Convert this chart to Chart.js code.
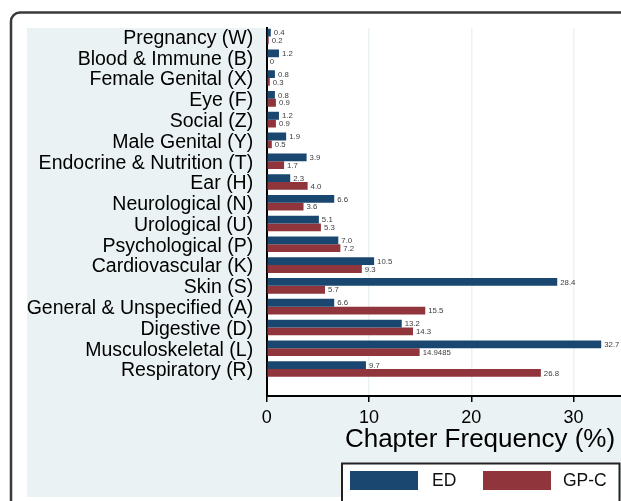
<!DOCTYPE html>
<html>
<head>
<meta charset="utf-8">
<script src="https://cdn.jsdelivr.net/npm/chart.js@4.4.1/dist/chart.umd.min.js"></script>
<style>
  html, body { margin: 0; padding: 0; background: #ffffff; overflow: hidden; width: 621px; height: 501px; }
  #wrap { position: relative; width: 720px; height: 501px; }
</style>
</head>
<body>
<div id="wrap"><canvas id="c" width="720" height="501"></canvas></div>
<script>
// ---- data ----
const categories = [
  'Pregnancy (W)', 'Blood & Immune (B)', 'Female Genital (X)', 'Eye (F)', 'Social (Z)',
  'Male Genital (Y)', 'Endocrine & Nutrition (T)', 'Ear (H)', 'Neurological (N)', 'Urological (U)',
  'Psychological (P)', 'Cardiovascular (K)', 'Skin (S)', 'General & Unspecified (A)',
  'Digestive (D)', 'Musculoskeletal (L)', 'Respiratory (R)'
];
const edValues  = [0.4, 1.2, 0.8, 0.8, 1.2, 1.9, 3.9, 2.3, 6.6, 5.1, 7.0, 10.5, 28.4, 6.6, 13.2, 32.7, 9.7];
const gpcValues = [0.2, 0, 0.3, 0.9, 0.9, 0.5, 1.7, 4.0, 3.6, 5.3, 7.2, 9.3, 5.7, 15.5, 14.3, 14.9485, 26.8];
const xTickValues = [0, 10, 20, 30, 40];
const seriesNames = ['ED', 'GP-C'];

const FONT = "'Liberation Sans', Arial, Helvetica, sans-serif";
const BG = '#eaf2f3';
const ED_COLOR = '#1a476f';
const GPC_COLOR = '#90353b';

function fmt(v) {
  if (v === 0) return '0';
  if (Math.abs(v * 10 - Math.round(v * 10)) < 1e-9) return v.toFixed(1);
  return String(v);
}

const toPoints = arr => arr.map((v, i) => ({ x: v, y: i }));

const frame = {
  id: 'frame',
  beforeDraw(chart) {
    const ctx = chart.ctx;
    const W = chart.width, H = chart.height;
    ctx.save();
    ctx.fillStyle = '#ffffff';
    ctx.fillRect(0, 0, W, H);
    ctx.strokeStyle = '#3a3a3a';
    ctx.lineWidth = 2.5;
    ctx.beginPath();
    ctx.roundRect(11, 12.5, W + 40, H + 40, 9);
    ctx.stroke();
    ctx.fillStyle = BG;
    ctx.fillRect(27, 28, W, 497 - 28);
    const a = chart.chartArea;
    ctx.fillStyle = '#ffffff';
    ctx.fillRect(a.left, a.top, a.right - a.left, a.bottom - a.top);
    ctx.restore();
  }
};

const valueLabels = {
  id: 'valueLabels',
  afterDatasetsDraw(chart) {
    const ctx = chart.ctx;
    ctx.save();
    ctx.font = '7.8px ' + FONT;
    ctx.fillStyle = '#3c3c3c';
    ctx.textAlign = 'left';
    ctx.textBaseline = 'middle';
    chart.data.datasets.forEach((ds, di) => {
      const meta = chart.getDatasetMeta(di);
      meta.data.forEach((el, i) => {
        ctx.fillText(fmt(ds.data[i].x), el.x + 3, el.y + 0.5);
      });
    });
    ctx.restore();
  }
};

const boxLegend = {
  id: 'boxLegend',
  afterDraw(chart) {
    const ctx = chart.ctx;
    ctx.save();
    ctx.fillStyle = '#ffffff';
    ctx.fillRect(342, 463.5, 277.5, 45);
    ctx.strokeStyle = '#222222';
    ctx.lineWidth = 2;
    ctx.strokeRect(342, 463.5, 277.5, 45);
    const items = [
      { sx: 350, tx: 432 },
      { sx: 483, tx: 563 }
    ];
    ctx.font = '17.5px ' + FONT;
    ctx.textBaseline = 'middle';
    ctx.textAlign = 'left';
    chart.data.datasets.forEach((ds, i) => {
      const it = items[i];
      ctx.fillStyle = ds.backgroundColor;
      ctx.fillRect(it.sx, 471, 68, 19);
      ctx.fillStyle = '#111111';
      ctx.fillText(ds.label, it.tx, 481.5);
    });
    ctx.restore();
  }
};

new Chart(document.getElementById('c'), {
  type: 'bar',
  data: {
    datasets: [
      { label: seriesNames[0], data: toPoints(edValues), backgroundColor: ED_COLOR, borderWidth: 0 },
      { label: seriesNames[1], data: toPoints(gpcValues), backgroundColor: GPC_COLOR, borderWidth: 0 }
    ]
  },
  options: {
    indexAxis: 'y',
    responsive: false,
    animation: false,
    devicePixelRatio: 1,
    categoryPercentage: 0.75,
    barPercentage: 1.0,
    layout: { padding: { left: 27, top: 28, right: 26.7, bottom: 45 } },
    plugins: { legend: { display: false }, tooltip: { enabled: false } },
    scales: {
      y: {
        type: 'linear',
        reverse: true,
        offset: false,
        min: -0.41,
        max: 17.3,
        afterBuildTicks(scale) { scale.ticks = categories.map((_, i) => ({ value: i })); },
        afterFit(scale) { scale.width = 239.7; },
        grid: { display: false, drawTicks: false, offset: false },
        border: { display: true, color: '#000000', width: 2 },
        ticks: {
          autoSkip: false,
          padding: 13.5,
          labelOffset: 2,
          color: '#000000',
          font: { family: FONT, size: 19.5 },
          callback: v => categories[v]
        }
      },
      x: {
        type: 'linear',
        min: 0,
        max: 41.7,
        afterBuildTicks(scale) { scale.ticks = xTickValues.map(v => ({ value: v })); },
        afterFit(scale) { scale.height = 60; },
        grid: {
          color: c => (c.tick && c.tick.value === 0) ? 'rgba(0,0,0,0)' : BG,
          lineWidth: 1.5,
          drawTicks: true,
          tickLength: 6,
          tickColor: '#000000',
          tickWidth: 1.5
        },
        border: { display: true, color: '#000000', width: 2 },
        ticks: {
          padding: 5,
          color: '#000000',
          maxRotation: 0,
          font: { family: FONT, size: 18 },
          callback: v => String(v)
        },
        title: {
          display: true,
          text: 'Chapter Frequency (%)',
          color: '#000000',
          font: { family: FONT, size: 26 },
          padding: { top: 0, bottom: 1 }
        }
      }
    }
  },
  plugins: [frame, valueLabels, boxLegend]
});
</script>
</body>
</html>
